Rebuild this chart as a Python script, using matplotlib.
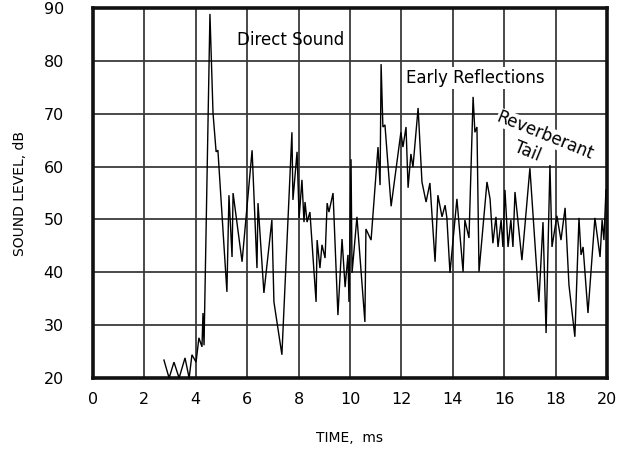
import matplotlib
matplotlib.use("Agg")
import matplotlib.pyplot as plt

# Impulse-response style sound level trace (time in ms, level in dB)
time_ms = [
    2.76, 2.96, 3.15, 3.35, 3.58, 3.74, 3.85, 4.01, 4.12, 4.24, 4.28, 4.32,
    4.55, 4.67, 4.79, 4.86, 5.21, 5.29, 5.41, 5.45, 5.80, 6.19, 6.38, 6.42,
    6.65, 6.96, 7.04, 7.35, 7.74, 7.78, 7.94, 8.02, 8.13, 8.21, 8.25, 8.33,
    8.44, 8.68, 8.72, 8.83, 8.91, 9.03, 9.11, 9.18, 9.34, 9.53, 9.69, 9.81,
    9.92, 9.96, 10.04, 10.08, 10.27, 10.58, 10.62, 10.82, 11.09, 11.17, 11.21,
    11.28, 11.36, 11.60, 11.98, 12.06, 12.18, 12.26, 12.37, 12.45, 12.65,
    12.80, 12.96, 13.11, 13.31, 13.42, 13.58, 13.70, 13.77, 13.89, 14.16,
    14.40, 14.47, 14.63, 14.79, 14.86, 14.94, 15.02, 15.33, 15.45, 15.56,
    15.68, 15.76, 15.88, 15.95, 16.03, 16.15, 16.26, 16.34, 16.42, 16.69,
    17.00, 17.35, 17.51, 17.63, 17.78, 17.86, 18.05, 18.21, 18.37, 18.52,
    18.75, 18.91, 18.99, 19.07, 19.26, 19.53, 19.73, 19.81, 19.88, 19.96,
]
level_db = [
    23.4, 20.0, 23.0, 20.0, 23.8, 20.0, 24.4, 23.0, 27.6, 25.9, 32.3, 26.2,
    88.9, 70.1, 62.8, 63.1, 36.3, 54.6, 42.9, 55.0, 42.0, 63.1, 40.8, 53.1,
    36.1, 49.9, 34.4, 24.4, 66.5, 53.7, 62.8, 50.3, 57.5, 49.5, 53.3, 49.5,
    51.4, 34.4, 46.1, 40.8, 45.2, 42.7, 53.1, 51.4, 55.0, 31.9, 46.3, 37.2,
    43.3, 34.4, 61.4, 39.9, 50.5, 30.6, 48.2, 46.1, 63.7, 56.5, 79.4,
    67.5, 67.9, 52.5, 66.5, 63.7, 67.5, 56.0, 62.4, 59.9, 71.1,
    57.1, 53.3, 56.9, 42.0, 54.6, 50.5, 52.7, 50.3, 39.9, 53.9,
    40.1, 49.9, 46.5, 73.2, 66.5, 67.5, 40.1, 57.1, 53.9, 45.5,
    50.5, 44.8, 49.9, 44.8, 55.6, 44.8, 49.9, 44.8, 55.2, 42.3,
    59.7, 34.4, 49.5, 28.5, 60.3, 44.8, 50.7, 46.1, 52.2, 37.6,
    27.8, 50.3, 43.3, 44.8, 32.3, 50.3, 42.9, 49.9, 46.1, 55.6,
]

x_ticks = [0, 2, 4, 6, 8, 10, 12, 14, 16, 18, 20]
y_ticks = [20, 30, 40, 50, 60, 70, 80, 90]

plt.rcParams['font.family'] = ['DejaVu Sans']

fig = plt.figure(figsize=(6.23, 4.5), dpi=100)
ax = fig.add_axes([0.1493, 0.16, 0.825, 0.822])

ax.set_xlim(0, 20)
ax.set_ylim(20, 90)
ax.set_xticks(x_ticks)
ax.set_yticks(y_ticks)
ax.set_xticklabels([str(t) for t in x_ticks], fontsize=11.5)
ax.set_yticklabels([str(t) for t in y_ticks], fontsize=11.5)
ax.tick_params(axis='both', length=0)
ax.tick_params(axis='x', pad=10)
ax.tick_params(axis='y', pad=21)

ax.grid(True, color='#3a3a3a', linewidth=1.3, zorder=1)
ax.set_axisbelow(True)
for s in ax.spines.values():
    s.set_linewidth(2.6)
    s.set_color('#111111')

ax.plot(time_ms, level_db, color='black', linewidth=1.0, zorder=3,
        solid_joinstyle='miter')

# Axis titles placed in figure coordinates
fig.text(350 / 623, 1 - 438 / 450, 'TIME,  ms', fontsize=10,
         ha='center', va='center')
fig.text(20 / 623, 1 - 193 / 450, 'SOUND LEVEL, dB', fontsize=10,
         ha='center', va='center', rotation=90)

ax.text(7.7, 84.0, 'Direct Sound', fontsize=12, ha='center', va='center',
        zorder=2)
ax.text(14.86, 76.8, 'Early Reflections', fontsize=12, ha='center',
        va='center', zorder=2,
        bbox=dict(facecolor='white', edgecolor='none', pad=1.5))
ax.text(17.6, 65.9, 'Reverberant', fontsize=12, ha='center', va='center',
        rotation=-22, zorder=2,
        bbox=dict(facecolor='white', edgecolor='none', pad=0.3))
ax.text(16.9, 62.8, 'Tail', fontsize=12, ha='center', va='center',
        rotation=-22, zorder=2,
        bbox=dict(facecolor='white', edgecolor='none', pad=0.3))

fig.savefig('out.png', dpi=100)
